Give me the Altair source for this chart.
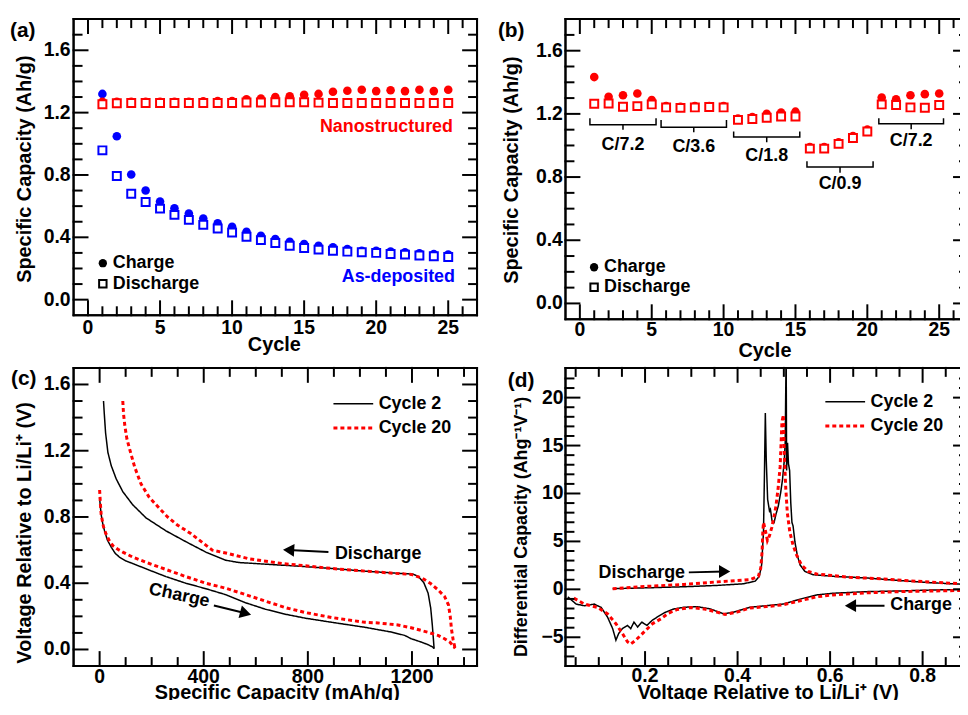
import altair as alt
import pandas as pd

FONT = "Liberation Sans"
RED = "#ff0000"
BLUE = "#0000ff"

# ---------------- (a) cycling of nanostructured vs as-deposited ----------------
cycles = list(range(1, 26))
nano_charge = [1.27, 1.27, 1.27, 1.27, 1.27, 1.27, 1.27, 1.272, 1.274, 1.275, 1.285, 1.29, 1.30,
               1.305, 1.315, 1.32, 1.334, 1.34, 1.347, 1.338, 1.344, 1.338, 1.347, 1.338, 1.347]
nano_discharge = [1.254, 1.26, 1.262, 1.262, 1.262, 1.262, 1.262, 1.262, 1.262, 1.262, 1.265, 1.265,
                  1.267, 1.267, 1.267, 1.264, 1.262, 1.262, 1.262, 1.262, 1.262, 1.262, 1.262, 1.262, 1.262]
asdep_charge = [1.32, 1.048, 0.803, 0.70, 0.629, 0.586, 0.552, 0.52, 0.49, 0.467, 0.436, 0.41, 0.389,
                0.372, 0.357, 0.346, 0.336, 0.325, 0.314, 0.314, 0.308, 0.304, 0.297, 0.293, 0.289]
asdep_discharge = [0.958, 0.793, 0.68, 0.627, 0.584, 0.544, 0.512, 0.48, 0.457, 0.431, 0.404, 0.382,
                   0.363, 0.346, 0.331, 0.321, 0.314, 0.308, 0.304, 0.30, 0.293, 0.289, 0.283, 0.278, 0.274]

# ---------------- (b) rate capability ----------------
rate_charge = [1.433, 1.308, 1.318, 1.329, 1.287, 1.25, 1.245, 1.25, 1.25, 1.25, 1.17, 1.18, 1.20,
               1.208, 1.214, 0.99, 0.99, 1.02, 1.06, 1.10, 1.304, 1.293, 1.318, 1.325, 1.329]
rate_discharge = [1.264, 1.266, 1.245, 1.249, 1.26, 1.241, 1.238, 1.241, 1.243, 1.241, 1.162, 1.168,
                  1.176, 1.183, 1.183, 0.98, 0.98, 1.01, 1.047, 1.089, 1.26, 1.256, 1.241, 1.239, 1.256]
rate_labels = ["C/7.2", "C/3.6", "C/1.8", "C/0.9", "C/7.2"]
bracket_start = [0.7, 5.65, 10.7, 15.8, 20.8]
bracket_end = [5.3, 10.2, 15.3, 20.4, 25.3]
bracket_top = [1.172, 1.162, 1.089, 0.90, 1.172]
bracket_base = [1.131, 1.116, 1.053, 0.864, 1.137]
bracket_tip = [1.10, 1.083, 1.02, 0.828, 1.103]
rate_label_y = [1.005, 0.989, 0.932, 0.755, 1.026]

legend_labels = ["Charge", "Discharge"]

# ---------------- (c) voltage profiles ----------------
c2_upper_x = [15, 17.8, 22.9, 31.8, 44.6, 63.7, 89, 127, 178, 255, 331, 408, 484, 535, 637, 764, 892,
              1019, 1146, 1204, 1225, 1245, 1262, 1272, 1278, 1282, 1285]
c2_upper_y = [1.50, 1.427, 1.308, 1.19, 1.11, 1.03, 0.953, 0.874, 0.795, 0.716, 0.651, 0.588, 0.539,
              0.525, 0.515, 0.503, 0.489, 0.473, 0.46, 0.455, 0.44, 0.405, 0.34, 0.25, 0.15, 0.07, 0.005]
c2_lower_x = [0, 3, 6, 12, 19, 30, 45, 60, 76, 100, 127, 191, 255, 331, 408, 484, 561, 637, 713, 790,
              892, 1019, 1121, 1172, 1197, 1235, 1260, 1280, 1285]
c2_lower_y = [0.913, 0.86, 0.815, 0.76, 0.716, 0.66, 0.617, 0.58, 0.558, 0.535, 0.519, 0.479, 0.44,
              0.40, 0.367, 0.331, 0.282, 0.243, 0.213, 0.189, 0.164, 0.134, 0.105, 0.085, 0.065, 0.045,
              0.03, 0.015, 0.005]
c20_upper_x = [89, 92, 97, 105, 117, 135, 159, 190, 225, 261, 300, 350, 433, 497, 573, 701, 892, 1019,
               1150, 1197, 1240, 1270, 1300, 1325, 1340, 1347, 1352, 1358, 1366]
c20_upper_y = [1.50, 1.42, 1.35, 1.27, 1.2, 1.1, 1.0, 0.92, 0.86, 0.80, 0.75, 0.70, 0.60, 0.578, 0.548,
               0.519, 0.489, 0.473, 0.458, 0.453, 0.43, 0.40, 0.36, 0.32, 0.27, 0.2, 0.12, 0.06, 0.005]
c20_lower_x = [0, 3, 6, 15, 25, 38, 51, 70, 89, 127, 191, 255, 331, 408, 484, 561, 637, 713, 790, 892,
               1019, 1070, 1146, 1200, 1261, 1300, 1325, 1345, 1357, 1366]
c20_lower_y = [0.963, 0.88, 0.815, 0.74, 0.696, 0.655, 0.627, 0.605, 0.588, 0.558, 0.519, 0.483, 0.44,
               0.40, 0.37, 0.331, 0.292, 0.253, 0.223, 0.193, 0.164, 0.16, 0.148, 0.13, 0.104, 0.085,
               0.065, 0.045, 0.025, 0.006]

# ---------------- (d) differential capacity ----------------
d2_dis_x = [0.13, 0.212, 0.284, 0.356, 0.413, 0.438, 0.447, 0.452, 0.456, 0.458, 0.460, 0.462, 0.465,
            0.469, 0.471, 0.4745, 0.479, 0.483, 0.488, 0.493, 0.497, 0.501, 0.503, 0.505, 0.506, 0.508,
            0.510, 0.5125, 0.515, 0.5175, 0.520, 0.524, 0.529, 0.535, 0.5455, 0.563, 0.606, 0.678,
            0.75, 0.821, 0.9]
d2_dis_y = [0.07, 0.17, 0.27, 0.41, 0.58, 0.85, 1.36, 2.56, 5.96, 11.75, 18.4, 13.5, 9.37, 8.18, 8.35,
            7.15, 6.98, 7.84, 8.69, 10.05, 11.4, 13.46, 15.33, 25.0, 12.4, 15.3, 13.1, 12.4, 9.03, 7.0,
            6.6, 4.94, 3.58, 2.56, 1.87, 1.53, 1.36, 1.19, 0.92, 0.68, 0.5]
d20_dis_x = [0.13, 0.2, 0.284, 0.356, 0.427, 0.445, 0.45, 0.453, 0.4545, 0.456, 0.4595, 0.4645, 0.469,
             0.474, 0.479, 0.483, 0.488, 0.492, 0.494, 0.496, 0.499, 0.501, 0.504, 0.5075, 0.513, 0.52,
             0.5275, 0.538, 0.5525, 0.571, 0.642, 0.714, 0.786, 0.857, 0.9]
d20_dis_y = [0.07, 0.3, 0.51, 0.78, 1.02, 1.36, 2.2, 3.9, 5.96, 6.98, 6.3, 5.1, 5.6, 6.47, 7.67, 8.69,
             10.7, 12.8, 15.2, 17.5, 18.2, 14.1, 10.7, 8.0, 5.96, 4.6, 3.58, 2.56, 1.87, 1.6, 1.26, 1.09,
             0.85, 0.65, 0.55]
d2_chg_x = [0.033, 0.051, 0.069, 0.09, 0.105, 0.119, 0.13, 0.137, 0.143, 0.151, 0.162, 0.169, 0.176,
            0.184, 0.193, 0.204, 0.215, 0.226, 0.244, 0.262, 0.284, 0.3125, 0.341, 0.37, 0.391, 0.427,
            0.463, 0.499, 0.535, 0.571, 0.606, 0.678, 0.75, 0.821, 0.9]
d2_chg_y = [-0.78, -1.54, -1.71, -1.54, -1.88, -2.9, -4.1, -5.3, -4.6, -4.1, -3.76, -4.1, -3.42, -3.93,
            -3.42, -3.76, -3.25, -2.9, -2.39, -2.05, -1.87, -1.81, -2.04, -2.56, -2.38, -1.87, -1.7,
            -1.53, -1.02, -0.58, -0.41, -0.24, -0.17, -0.07, 0.0]
d20_chg_x = [0.046, 0.069, 0.097, 0.119, 0.137, 0.151, 0.162, 0.169, 0.18, 0.198, 0.216, 0.234, 0.25,
             0.2695, 0.298, 0.327, 0.3556, 0.373, 0.3986, 0.427, 0.463, 0.499, 0.535, 0.571, 0.606,
             0.678, 0.75, 0.821, 0.9]
d20_chg_y = [-0.92, -1.54, -1.88, -2.56, -3.59, -4.6, -5.47, -5.7, -5.3, -4.44, -3.59, -3.08, -2.5,
             -2.1, -1.9, -2.04, -2.38, -2.62, -2.38, -1.94, -1.8, -1.6, -1.19, -0.78, -0.58, -0.37,
             -0.24, -0.17, -0.1]

cycle_names = ["Cycle 2", "Cycle 20"]

# tick values and tick labels
cyc_major = [0, 5, 10, 15, 20, 25]
cyc_minor = [i for i in range(0, 27) if i % 5]
cyc_labels = ["0", "5", "10", "15", "20", "25"]
cap_major = [0.0, 0.4, 0.8, 1.2, 1.6]
cap_minor = [round(k * 0.1, 1) for k in range(1, 18) if k % 4]
cap_labels = ["0.0", "0.4", "0.8", "1.2", "1.6"]
mah_major = [0, 400, 800, 1200]
mah_minor = [100, 200, 300, 500, 600, 700, 900, 1000, 1100, 1300, 1400]
mah_labels = ["0", "400", "800", "1200"]
volt_major = [0.2, 0.4, 0.6, 0.8]
volt_minor = [0.05, 0.1, 0.15, 0.25, 0.3, 0.35, 0.45, 0.5, 0.55, 0.65, 0.7, 0.75, 0.85]
volt_labels = ["0.2", "0.4", "0.6", "0.8"]
dq_major = [-5, 0, 5, 10, 15, 20]
dq_minor = [v for v in range(-7, 23) if v % 5]
dq_labels = ["\u22125", "0", "5", "10", "15", "20"]

MAJ = 14
MIN = 8


# ---------------- helpers ----------------
def xy(xs, ys, xf="x", yf="y"):
    return dict(x=alt.X(f"{xf}:Q", scale=xs, axis=None), y=alt.Y(f"{yf}:Q", scale=ys, axis=None))


def frame_parts(W, H, xdom, ydom, xmaj, xmin, ymaj, ymin, xlabels, ylabels, xtitle, ytitle,
                xlab_dy, ylab_dx, xt_x, xt_dy, yt_x, yt_y, ytitle_size=20):
    xs = alt.Scale(domain=xdom, nice=False, zero=False)
    ys = alt.Scale(domain=ydom, nice=False, zero=False)
    txt = dict(font=FONT, fontWeight="bold", color="black")
    xlab = alt.Chart(pd.DataFrame({"v": xmaj, "t": xlabels})).mark_text(
        align="center", baseline="top", fontSize=19.5, **txt).encode(
        x=alt.X("v:Q", scale=xs, axis=None), y=alt.value(H + xlab_dy), text="t:N")
    ylab = alt.Chart(pd.DataFrame({"v": ymaj, "t": ylabels})).mark_text(
        align="right", baseline="middle", fontSize=19.5, **txt).encode(
        y=alt.Y("v:Q", scale=ys, axis=None), x=alt.value(-ylab_dx), text="t:N")
    xtl = alt.Chart(pd.DataFrame({"t": [xtitle]})).mark_text(
        align="center", baseline="alphabetic", fontSize=20, **txt).encode(
        x=alt.value(xt_x), y=alt.value(H + xt_dy), text="t:N")
    ytl = alt.Chart(pd.DataFrame({"t": [ytitle]})).mark_text(
        align="center", baseline="middle", angle=270, fontSize=ytitle_size, **txt).encode(
        x=alt.value(yt_x), y=alt.value(yt_y), text="t:N")

    # inward ticks on all four sides plus the box, as rule segments in data space
    px_x = (xdom[1] - xdom[0]) / W
    px_y = (ydom[1] - ydom[0]) / H
    segs = []
    for vals, L in ((xmaj, MAJ), (xmin, MIN)):
        for v in vals:
            segs.append((v, ydom[0], v, ydom[0] + L * px_y))
            segs.append((v, ydom[1], v, ydom[1] - L * px_y))
    for vals, L in ((ymaj, MAJ), (ymin, MIN)):
        for v in vals:
            segs.append((xdom[0], v, xdom[0] + L * px_x, v))
            segs.append((xdom[1], v, xdom[1] - L * px_x, v))
    segs += [(xdom[0], ydom[0], xdom[1], ydom[0]), (xdom[0], ydom[1], xdom[1], ydom[1]),
             (xdom[0], ydom[0], xdom[0], ydom[1]), (xdom[1], ydom[0], xdom[1], ydom[1])]
    sdf = pd.DataFrame(segs, columns=["x", "y", "x2", "y2"])
    ticks = alt.Chart(sdf).mark_rule(color="#000000", strokeWidth=2, strokeCap="square").encode(
        x=alt.X("x:Q", scale=xs, axis=None), y=alt.Y("y:Q", scale=ys, axis=None),
        x2="x2:Q", y2="y2:Q")
    return [xlab, ylab, xtl, ytl], ticks, xs, ys


def panel_label(text, dx, dy):
    return alt.Chart(pd.DataFrame({"t": [text]})).mark_text(
        align="left", baseline="middle", font=FONT, fontSize=21, fontWeight="bold", color="black"
    ).encode(x=alt.value(dx), y=alt.value(dy), text="t:N")


def circles(xv, yv, color, xs, ys):
    return alt.Chart(pd.DataFrame({"x": xv, "y": yv})).mark_circle(
        size=75, color=color, opacity=1).encode(**xy(xs, ys))


def squares(xv, yv, color, xs, ys):
    return alt.Chart(pd.DataFrame({"x": xv, "y": yv})).mark_point(
        shape="square", filled=True, fill="white", stroke=color, strokeWidth=2, size=64,
        opacity=1).encode(**xy(xs, ys))


def text_at(texts, xv, yv, xs, ys, align="left", color="black", size=18, angle=0):
    return alt.Chart(pd.DataFrame({"x": xv, "y": yv, "t": texts})).mark_text(
        align=align, baseline="middle", font=FONT, fontSize=size, fontWeight="bold",
        color=color, angle=angle).encode(text="t:N", **xy(xs, ys))


def sym_legend(xs, ys, lx, ly):
    circ = alt.Chart(pd.DataFrame({"x": [lx], "y": [ly[0]]})).mark_circle(
        size=70, color="black", opacity=1).encode(**xy(xs, ys))
    sq = alt.Chart(pd.DataFrame({"x": [lx], "y": [ly[1]]})).mark_point(
        shape="square", filled=False, stroke="black", strokeWidth=2, size=56,
        opacity=1).encode(**xy(xs, ys))
    return [circ, sq]


def arrow(tail, head, shape, angle, xs, ys):
    df = pd.DataFrame({"x": [tail[0], head[0]], "y": [tail[1], head[1]], "i": [0, 1]})
    ln = alt.Chart(df).mark_line(color="black", strokeWidth=2).encode(order="i:Q", **xy(xs, ys))
    hd = alt.Chart(pd.DataFrame({"x": [head[0]], "y": [head[1]]})).mark_point(
        shape=shape, filled=True, color="black", size=170, angle=angle, opacity=1
    ).encode(**xy(xs, ys))
    return [ln, hd]


def curves(groups, xs, ys, lx, ly):
    rows = []
    for name, branch, xv, yv in groups:
        for i, (a, b) in enumerate(zip(xv, yv)):
            rows.append({"x": a, "y": b, "cycle": name, "branch": name + branch, "i": i})
    df = pd.DataFrame(rows)
    leg = alt.Legend(orient="none", legendX=lx, legendY=ly, title=None, labelFont=FONT,
                     labelFontSize=18, labelFontWeight="bold", labelColor="black",
                     symbolType="M-2,0H2", symbolSize=400, labelOffset=14, rowPadding=4, padding=0)
    return alt.Chart(df).mark_line(clip=True).encode(
        color=alt.Color("cycle:N", scale=alt.Scale(domain=cycle_names, range=["black", RED]),
                        legend=leg),
        strokeDash=alt.StrokeDash("cycle:N", scale=alt.Scale(domain=cycle_names,
                                                              range=[[1, 0], [4, 3]]), legend=leg),
        strokeWidth=alt.StrokeWidth("cycle:N", scale=alt.Scale(domain=cycle_names, range=[1.5, 3]),
                                    legend=leg),
        detail="branch:N", order="i:Q", **xy(xs, ys))


# ---------------- panel (a) ----------------
WA, HA = 406, 298
la, ta, xa, ya = frame_parts(WA, HA, [-1, 27], [-0.1, 1.8], cyc_major, cyc_minor, cap_major,
                             cap_minor, cyc_labels, cap_labels, "Cycle", "Specific Capacity (Ah/g)",
                             3.5, 3, 202, 36.3, -49, 151)
panel_a = alt.layer(
    *la,
    circles(cycles, asdep_charge, BLUE, xa, ya),
    squares(cycles, asdep_discharge, BLUE, xa, ya),
    circles(cycles, nano_charge, RED, xa, ya),
    squares(cycles, nano_discharge, RED, xa, ya),
    text_at(["Nanostructured"], [25.33], [1.107], xa, ya, align="right", color=RED),
    text_at(["As-deposited"], [25.47], [0.145], xa, ya, align="right", color=BLUE),
    *sym_legend(xa, ya, 1.03, [0.234, 0.102]),
    text_at(legend_labels, [1.72, 1.72], [0.234, 0.102], xa, ya),
    panel_label("(a)", -64, 11.5),
    ta,
).properties(width=WA, height=HA)

# ---------------- panel (b) ----------------
WB, HB = 405, 302
lb, tb, xb, yb = frame_parts(WB, HB, [-1, 27], [-0.1, 1.8], cyc_major, cyc_minor, cap_major,
                             cap_minor, cyc_labels, cap_labels, "Cycle", "Specific Capacity (Ah/g)",
                             2, 2.7, 200.7, 37.6, -54, 152)
br_rows = []
for k in range(len(rate_labels)):
    x0, x1 = bracket_start[k], bracket_end[k]
    xm = (x0 + x1) / 2
    pts = [(x0, bracket_top[k]), (x0, bracket_base[k]), (xm, bracket_base[k]), (xm, bracket_tip[k]),
           (xm, bracket_base[k]), (x1, bracket_base[k]), (x1, bracket_top[k])]
    for i, (px, py) in enumerate(pts):
        br_rows.append({"x": px, "y": py, "g": k, "i": i})
brackets = alt.Chart(pd.DataFrame(br_rows)).mark_line(color="black", strokeWidth=1.5).encode(
    detail="g:N", order="i:Q", **xy(xb, yb))
rate_mid = [(a + b) / 2 for a, b in zip(bracket_start, bracket_end)]
panel_b = alt.layer(
    *lb,
    circles(cycles, rate_charge, RED, xb, yb),
    squares(cycles, rate_discharge, RED, xb, yb),
    brackets,
    text_at(rate_labels, rate_mid, rate_label_y, xb, yb, align="center"),
    *sym_legend(xb, yb, 0.99, [0.229, 0.102]),
    text_at(legend_labels, [1.68, 1.68], [0.229, 0.102], xb, yb),
    panel_label("(b)", -68, 12.5),
    tb,
).properties(width=WB, height=HB)

# ---------------- panel (c) ----------------
WC, HC = 406, 300
lc, tc, xc, yc = frame_parts(WC, HC, [-100, 1450], [-0.1, 1.7], mah_major, mah_minor, cap_major,
                             [v for v in cap_minor if v < 1.65], mah_labels, cap_labels,
                             "Specific Capacity (mAh/g)", "Voltage Relative to Li/Li⁺ (V)",
                             1.6, 3, 205, 33, -49, 166)
panel_c = alt.layer(
    *lc,
    curves([("Cycle 2", "u", c2_upper_x, c2_upper_y), ("Cycle 2", "l", c2_lower_x, c2_lower_y),
            ("Cycle 20", "u", c20_upper_x, c20_upper_y), ("Cycle 20", "l", c20_lower_x, c20_lower_y)],
           xc, yc, 270, 25),
    text_at(["Discharge"], [904], [0.578], xc, yc),
    text_at(["Charge"], [306], [0.326], xc, yc, align="center", angle=12),
    *arrow((879, 0.588), (726, 0.60), "triangle-left", 3, xc, yc),
    *arrow((439, 0.266), (561, 0.219), "triangle-right", 15, xc, yc),
    panel_label("(c)", -63, 11.5),
    tc,
).properties(width=WC, height=HC)

# ---------------- panel (d) ----------------
WD, HD = 405, 300
ld, td, xd, yd = frame_parts(WD, HD, [0.028, 0.898], [-8, 23.1], volt_major, volt_minor, dq_major,
                             dq_minor, volt_labels, dq_labels, "Voltage Relative to Li/Li⁺ (V)",
                             "Differential Capacity (Ahg⁻¹V⁻¹)", 1, 2, 204, 33, -44, 160,
                             ytitle_size=18)
panel_d = alt.layer(
    *ld,
    curves([("Cycle 2", "d", d2_dis_x, d2_dis_y), ("Cycle 2", "c", d2_chg_x, d2_chg_y),
            ("Cycle 20", "d", d20_dis_x, d20_dis_y), ("Cycle 20", "c", d20_chg_x, d20_chg_y)],
           xd, yd, 270, 23),
    text_at(["Discharge"], [0.0996], [1.7], xd, yd),
    text_at(["Charge"], [0.73], [-1.6], xd, yd),
    *arrow((0.2946, 1.77), (0.372, 1.87), "triangle-right", 0, xd, yd),
    *arrow((0.7176, -1.7), (0.644, -1.7), "triangle-left", 0, xd, yd),
    panel_label("(d)", -58, 13),
    td,
).properties(width=WD, height=HD)

indep = dict(color="independent", strokeDash="independent", strokeWidth="independent")
row1 = alt.hconcat(panel_a, panel_b, spacing=17).resolve_scale(**indep)
row2 = alt.hconcat(panel_c, panel_d, spacing=27).resolve_scale(**indep)
chart = alt.vconcat(row1, row2, spacing=3).resolve_scale(**indep).properties(
    padding={"left": 1, "top": 6, "right": -11, "bottom": -6}
).configure(background="white").configure_view(stroke="black", strokeWidth=2)

chart.save("out.html", embed_options={"renderer": "svg", "actions": False})
